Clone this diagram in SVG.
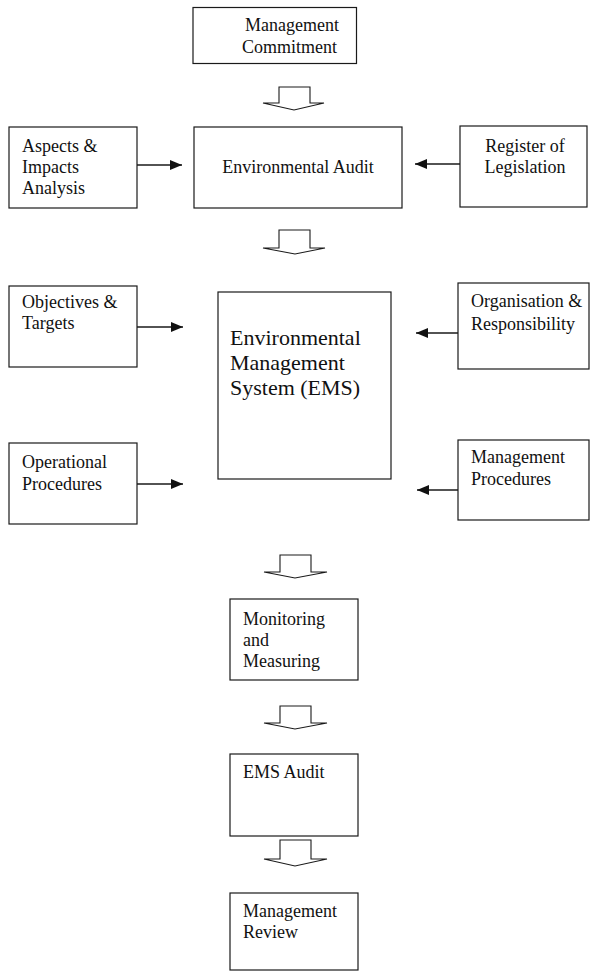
<svg xmlns="http://www.w3.org/2000/svg" width="599" height="972" viewBox="0 0 599 972">
  <style>
    .box { fill: #ffffff; stroke: #1a1a1a; stroke-width: 1.2; }
    .lbl { font-family: "Liberation Serif", "Times New Roman", serif; font-size: 18px; fill: #111111; }
    .big { font-size: 22px; }
    .flow { fill: #ffffff; stroke: #1a1a1a; stroke-width: 1.1; stroke-linejoin: miter; }
    .link { stroke: #1a1a1a; stroke-width: 1.3; fill: none; }
  </style>
  <defs>
    <marker id="head" viewBox="0 0 12 10" refX="12" refY="5" markerWidth="12" markerHeight="10" markerUnits="userSpaceOnUse" orient="auto">
      <path d="M0,0 L12,5 L0,10 Z" fill="#111111"/>
    </marker>
  </defs>
  <rect width="599" height="972" fill="#ffffff"/>

  <!-- Nodes -->
  <g id="management-commitment">
    <rect class="box" x="193" y="7.5" width="163.5" height="56"/>
    <text class="lbl" x="245" y="31">Management</text>
    <text class="lbl" x="242" y="53">Commitment</text>
  </g>

  <g id="aspects-impacts">
    <rect class="box" x="9" y="127" width="128" height="81"/>
    <text class="lbl" x="22" y="152">Aspects &amp;</text>
    <text class="lbl" x="22" y="173">Impacts</text>
    <text class="lbl" x="22" y="194">Analysis</text>
  </g>

  <g id="environmental-audit">
    <rect class="box" x="194" y="127" width="208" height="81"/>
    <text class="lbl" x="298" y="173" text-anchor="middle">Environmental Audit</text>
  </g>

  <g id="register-legislation">
    <rect class="box" x="460" y="126" width="127" height="81"/>
    <text class="lbl" x="525" y="152" text-anchor="middle">Register of</text>
    <text class="lbl" x="525" y="173" text-anchor="middle">Legislation</text>
  </g>

  <g id="objectives-targets">
    <rect class="box" x="9" y="286" width="128" height="81"/>
    <text class="lbl" x="22" y="308">Objectives &amp;</text>
    <text class="lbl" x="22" y="329">Targets</text>
  </g>

  <g id="ems">
    <rect class="box" x="218" y="292" width="173" height="187"/>
    <text class="lbl big" x="230" y="345">Environmental</text>
    <text class="lbl big" x="230" y="370">Management</text>
    <text class="lbl big" x="230" y="395">System (EMS)</text>
  </g>

  <g id="organisation-responsibility">
    <rect class="box" x="458" y="283" width="131" height="86"/>
    <text class="lbl" x="471" y="307">Organisation &amp;</text>
    <text class="lbl" x="471" y="330">Responsibility</text>
  </g>

  <g id="operational-procedures">
    <rect class="box" x="9" y="443" width="128" height="81"/>
    <text class="lbl" x="22" y="468">Operational</text>
    <text class="lbl" x="22" y="490">Procedures</text>
  </g>

  <g id="management-procedures">
    <rect class="box" x="458" y="440" width="131" height="80"/>
    <text class="lbl" x="471" y="463">Management</text>
    <text class="lbl" x="471" y="485">Procedures</text>
  </g>

  <g id="monitoring-measuring">
    <rect class="box" x="230" y="599" width="128" height="81"/>
    <text class="lbl" x="243" y="625">Monitoring</text>
    <text class="lbl" x="243" y="646">and</text>
    <text class="lbl" x="243" y="667">Measuring</text>
  </g>

  <g id="ems-audit">
    <rect class="box" x="230" y="754" width="128" height="82"/>
    <text class="lbl" x="243" y="778">EMS Audit</text>
  </g>

  <g id="management-review">
    <rect class="box" x="230" y="893" width="128" height="77"/>
    <text class="lbl" x="243" y="917">Management</text>
    <text class="lbl" x="243" y="938">Review</text>
  </g>

  <!-- Connectors -->
  <g id="connectors">
    <!-- hollow block arrows down the main flow -->
    <polygon class="flow" points="279,87 310,87 310,103 324,103 294,110 263,103 279,103"/>
    <polygon class="flow" points="279,230 310,230 310,248 325,248 295,254 263,248 279,248"/>
    <polygon class="flow" points="280,555 311,555 311,572 327,572 295,578 264,572 280,572"/>
    <polygon class="flow" points="280,706 311,706 311,723 327,723 295,729 264,723 280,723"/>
    <polygon class="flow" points="280,840 311,840 311,859 327,859 295,866 264,859 280,859"/>

    <!-- side inputs -->
    <line class="link" x1="137" y1="165" x2="182" y2="165" marker-end="url(#head)"/>
    <line class="link" x1="460" y1="164" x2="415" y2="164" marker-end="url(#head)"/>
    <line class="link" x1="137" y1="327" x2="183" y2="327" marker-end="url(#head)"/>
    <line class="link" x1="458" y1="333" x2="416" y2="333" marker-end="url(#head)"/>
    <line class="link" x1="137" y1="484" x2="183" y2="484" marker-end="url(#head)"/>
    <line class="link" x1="458" y1="490" x2="417" y2="490" marker-end="url(#head)"/>
  </g>
</svg>
